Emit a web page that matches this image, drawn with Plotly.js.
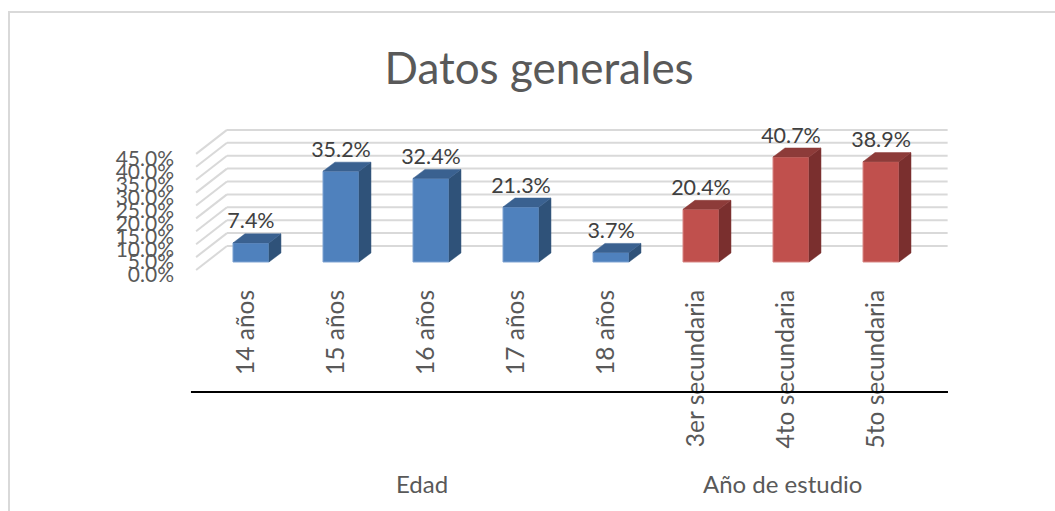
<!DOCTYPE html>
<html>
<head>
<meta charset="utf-8">
<script src="https://cdn.plot.ly/plotly-3.0.1.min.js"></script>
<style>
  html, body { margin: 0; padding: 0; background: #fff; overflow: hidden; }
  #frame { position: absolute; left: 8px; top: 11px; right: 0; bottom: 0; border-left: 2px solid #d9d9d9; border-top: 2px solid #d9d9d9; }
  #tester { position: absolute; left: 0; top: 0; width: 1055px; height: 511px; }
</style>
</head>
<body>
<div id="frame"></div>
<div id="tester"></div>
<script>
var edadCats = ['14 años', '15 años', '16 años', '17 años', '18 años'];
var edadValues = [7.4, 35.2, 32.4, 21.3, 3.7];
var estudioCats = ['3er secundaria', '4to secundaria', '5to secundaria'];
var estudioValues = [20.4, 40.7, 38.9];
var yTicks = [0, 5, 10, 15, 20, 25, 30, 35, 40, 45];
var groupNames = ['Edad', 'Año de estudio'];
var groupCenters = [1.9, 5.9];

// fake 3d, all in data units (1 x unit = 90px, 1 y unit = 2.58px)
var barHalf = 0.2;
var depthX = 0.133;
var depthY = 3.5;
var wallFrontX = -0.61;
var wallBackX = -0.267;
var wallEndX = 7.74;
var wallFrontY = -3.1;
var wallBackY = 6.2;

function faces(xs, vals) {
    var side = { x: [], y: [] };
    var top = { x: [], y: [] };
    xs.forEach(function(x, i) {
        var v = vals[i];
        var l = x - barHalf, r = x + barHalf;
        side.x.push(r, r + depthX, r + depthX, r, r, null);
        side.y.push(0, depthY, v + depthY, v, 0, null);
        top.x.push(l, r, r + depthX, l + depthX, l, null);
        top.y.push(v, v, v + depthY, v + depthY, v, null);
    });
    return { side: side, top: top };
}

function polyTrace(p, color) {
    return { x: p.x, y: p.y, type: 'scatter', mode: 'lines', fill: 'toself', fillcolor: color,
        line: { color: color, width: 0.5 }, hoverinfo: 'skip', showlegend: false };
}

function frontTrace(xs, vals, color, edge) {
    return { x: xs, y: vals, type: 'bar', width: barHalf * 2, marker: { color: color, line: { color: edge, width: 1 } },
        hoverinfo: 'skip', showlegend: false };
}

function labelTrace(xs, vals) {
    return { x: xs, y: vals.map(function(v) { return v + depthY; }), type: 'scatter', mode: 'text',
        text: vals.map(function(v) { return v.toFixed(1) + '%'; }), textposition: 'top center',
        textfont: { family: 'Lato', size: 21.5, color: '#404040' }, cliponaxis: false, hoverinfo: 'skip', showlegend: false };
}

var cats = edadCats.concat(estudioCats);
var edadX = edadCats.map(function(c, i) { return i; });
var estudioX = estudioCats.map(function(c, i) { return i + edadCats.length; });

// grid goes in as shapes so it stays under the bars
var gridShapes = [];
yTicks.forEach(function(t) {
    var pts = [[wallFrontX, t + wallFrontY], [wallBackX, t + wallBackY], [wallEndX, t + wallBackY]];
    for (var i = 0; i < 2; i++) {
        gridShapes.push({ type: 'line', layer: 'below', xref: 'x', yref: 'y',
            x0: pts[i][0], y0: pts[i][1], x1: pts[i + 1][0], y1: pts[i + 1][1],
            line: { color: '#d9d9d9', width: 2 } });
    }
});

var blue = faces(edadX, edadValues);
var red = faces(estudioX, estudioValues);

var data = [
    frontTrace(edadX, edadValues, '#4f81bd', '#7ea3d2'),
    frontTrace(estudioX, estudioValues, '#c0504d', '#d98583'),
    polyTrace(blue.side, '#2f5279'),
    polyTrace(blue.top, '#3a6190'),
    polyTrace(red.side, '#7a2f2e'),
    polyTrace(red.top, '#8d3b39'),
    labelTrace(edadX, edadValues),
    labelTrace(estudioX, estudioValues)
];

var layout = {
    width: 1055,
    height: 511,
    margin: { l: 178, r: 100, t: 120, b: 231 },
    paper_bgcolor: 'rgba(0,0,0,0)',
    plot_bgcolor: 'rgba(0,0,0,0)',
    showlegend: false,
    barmode: 'overlay',
    title: { text: 'Datos generales', x: 0.511, xanchor: 'center', y: 0.865, yanchor: 'middle',
        font: { family: 'Lato', size: 44, color: '#595959' } },
    xaxis: {
        range: [-0.811, 7.822],
        tickmode: 'array',
        tickvals: edadX.concat(estudioX),
        ticktext: cats,
        tickangle: -90,
        ticklabelshift: -5,
        ticklabelstandoff: 4,
        ticks: '',
        showgrid: false,
        zeroline: false,
        showline: false,
        tickfont: { family: 'Lato', size: 24.5, color: '#595959' }
    },
    yaxis: {
        range: [-6.98, 55.04],
        tickmode: 'array',
        tickvals: yTicks,
        ticktext: yTicks.map(function(t) { return t.toFixed(1) + '%'; }),
        ticklabelshift: 13,
        ticklabelstandoff: 3,
        ticks: '',
        showgrid: false,
        zeroline: false,
        showline: false,
        tickfont: { family: 'Lato', size: 21, color: '#595959' }
    },
    shapes: gridShapes.concat([{ type: 'line', xref: 'x', yref: 'paper', x0: -0.667, x1: 7.744, y0: -0.7, y1: -0.7, line: { color: '#000', width: 2 } }]),
    annotations: groupNames.map(function(n, i) {
        return { text: n, x: groupCenters[i], xref: 'x', y: -1.27, yref: 'paper', yanchor: 'middle', showarrow: false,
            font: { family: 'Lato', size: 24, color: '#595959' } };
    })
};

Plotly.newPlot('tester', data, layout, { displayModeBar: false, staticPlot: true });
</script>
</body>
</html>
